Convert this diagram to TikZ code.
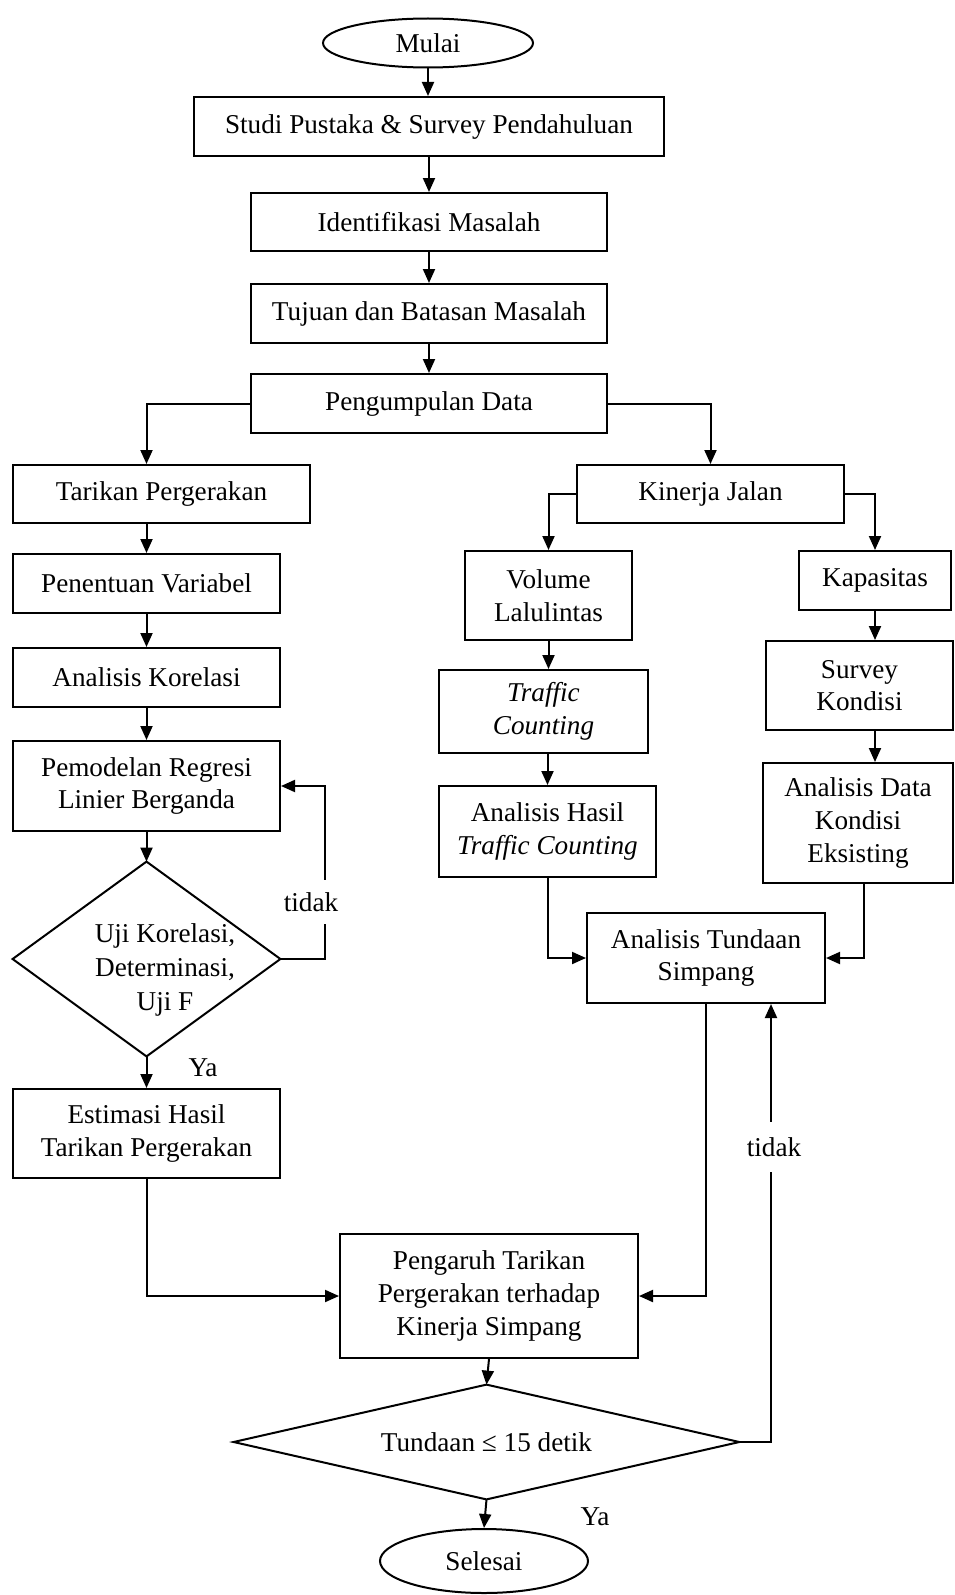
\documentclass[tikz,border=0pt]{standalone}
\usepackage{fontspec}
\setmainfont{Liberation Serif}
\usetikzlibrary{arrows.meta,shapes.geometric}
\newcommand\fsz{\fontsize{13.6}{16.3}\selectfont}
\begin{document}
\begin{tikzpicture}[x=0.5pt,y=-0.5pt,
  box/.style={draw,line width=1pt,rectangle,align=center,inner sep=1pt,font=\fsz},
  oval/.style={draw,line width=1pt,ellipse,inner sep=0pt,font=\fsz},
  dshape/.style={inner sep=0pt,align=center,font=\fsz},
  arr/.style={-{Triangle[length=7pt,width=6pt]},line width=1pt},
  lbl/.style={font=\fsz,inner sep=1pt}]
\useasboundingbox (0,0) rectangle (954,1595);
% nodes
\node[oval,minimum width=105pt,minimum height=24.5pt] (mulai) at (428,43) {Mulai};
\node[box,minimum width=235pt,minimum height=29.5pt] (studi) at (429,126.5) {Studi Pustaka \& Survey Pendahuluan};
\node[box,minimum width=178pt,minimum height=29pt] (ident) at (429,222) {Identifikasi Masalah};
\node[box,minimum width=178pt,minimum height=29.5pt] (tujuan) at (429,313.5) {Tujuan dan Batasan Masalah};
\node[box,minimum width=178pt,minimum height=29.5pt] (pd) at (429,403.5) {Pengumpulan Data};
\node[box,minimum width=148.5pt,minimum height=29pt] (tar) at (161.5,494) {Tarikan Pergerakan};
\node[box,minimum width=133.5pt,minimum height=29.5pt] (pen) at (146.5,583.5) {Penentuan Variabel};
\node[box,minimum width=133.5pt,minimum height=29.5pt] (kor) at (146.5,677.5) {Analisis Korelasi};
\node[box,minimum width=133.5pt,minimum height=45pt] (pem) at (146.5,786) {Pemodelan Regresi\\Linier Berganda};
\node[dshape,minimum width=133.5pt,minimum height=97pt] (uji) at (146.5,959) {};
\draw[line width=1pt] (uji.west) -- (uji.north) -- (uji.east) -- (uji.south) -- cycle;
\node[dshape,font=\fontsize{13.6}{16.8}\selectfont] (ujitext) at (165,970) {Uji Korelasi,\\Determinasi,\\Uji F};
\node[box,minimum width=133.5pt,minimum height=44.5pt] (est) at (146.5,1133.5) {Estimasi Hasil\\Tarikan Pergerakan};
\node[box,minimum width=133.5pt,minimum height=29pt] (kin) at (710.5,494) {Kinerja Jalan};
\node[box,minimum width=83.5pt,minimum height=44.5pt] (vol) at (548.5,595.5) {Volume\\Lalulintas};
\node[box,minimum width=104.5pt,minimum height=41.5pt] (traf) at (543.5,711.5) {\textit{Traffic}\\\textit{Counting}};
\node[box,minimum width=108.5pt,minimum height=45.5pt] (anh) at (547.5,831.5) {Analisis Hasil\\\textit{Traffic Counting}};
\node[box,minimum width=76pt,minimum height=29.5pt] (kap) at (875,580.5) {Kapasitas};
\node[box,minimum width=93.5pt,minimum height=44.5pt] (sur) at (859.5,685.5) {Survey\\Kondisi};
\node[box,minimum width=95pt,minimum height=60pt] (and) at (858,823) {Analisis Data\\Kondisi\\Eksisting};
\node[box,minimum width=119pt,minimum height=45pt] (tund) at (706,958) {Analisis Tundaan\\Simpang};
\node[box,minimum width=149pt,minimum height=62pt] (peng) at (489,1296) {Pengaruh Tarikan\\Pergerakan terhadap\\Kinerja Simpang};
\node[dshape,minimum width=252.5pt,minimum height=57pt] (dt) at (486.5,1442) {Tundaan ≤ 15 detik};
\draw[line width=1pt] (dt.west) -- (dt.north) -- (dt.east) -- (dt.south) -- cycle;
\node[oval,minimum width=104pt,minimum height=32pt] (sel) at (484,1561) {Selesai};
\coordinate (xl) at (771,0);
% connectors
\draw[arr] (mulai.south) -- (mulai.south |- studi.north);
\draw[arr] (studi.south) -- (ident.north);
\draw[arr] (ident.south) -- (tujuan.north);
\draw[arr] (tujuan.south) -- (pd.north);
\draw[arr] (pd.west) -| (pen.north |- tar.north);
\draw[arr] (tar.south -| pen.north) -- (pen.north);
\draw[arr] (pen.south) -- (kor.north);
\draw[arr] (kor.south) -- (pem.north);
\draw[arr] (pem.south) -- (uji.north);
\draw[arr] (uji.east) -- ++(45,0) |- (pem.east);
\draw[arr] (uji.south) -- (est.north);
\draw[arr] (est.south) |- (peng.west);
\draw[arr] (pd.east) -| (kin.north);
\draw[arr] (kin.west) -| (vol.north);
\draw[arr] (kin.east) -| (kap.north);
\draw[arr] (vol.south) -- (vol.south |- traf.north);
\draw[arr] (anh.north |- traf.south) -- (anh.north);
\draw[arr] (kap.south) -- (kap.south |- sur.north);
\draw[arr] (sur.south -| kap.south) -- (and.north -| kap.south);
\draw[arr] (anh.south) |- (tund.west);
\draw[arr] ([xshift=3pt]and.south) |- (tund.east);
\draw[arr] (tund.south) |- (peng.east);
\draw[arr] (peng.south) -- (dt.north);
\draw[arr] (dt.south) -- (sel.north);
\draw[arr] (dt.east) -| (xl |- tund.south);
% labels
\node[lbl,fill=white,minimum height=22pt] (ltidak1) at (311,902) {tidak};
\node[lbl] (lya1) at (203,1068) {Ya};
\node[lbl,fill=white,minimum height=25pt] (ltidak2) at (774,1147) {tidak};
\node[lbl] (lya2) at (595,1517) {Ya};
\end{tikzpicture}
\end{document}
